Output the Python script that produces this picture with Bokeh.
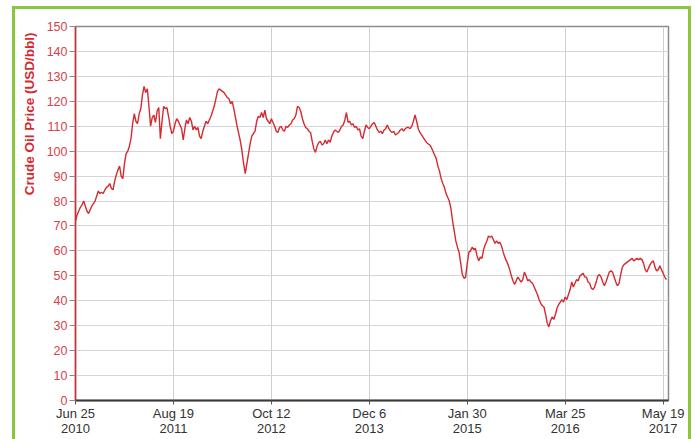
import numpy as np
import pandas as pd
from bokeh.plotting import figure
from bokeh.models import Range1d, FixedTicker, Title
from bokeh.embed import file_html
from bokeh.resources import INLINE

# ---------------- data ----------------
start_date = "2010-06-25"
end_date = "2017-06-11"
x_tick_dates = ["2010-06-25", "2011-08-19", "2012-10-12", "2013-12-06",
                "2015-01-30", "2016-03-25", "2017-05-19"]
x_tick_labels = ["Jun 25\n2010", "Aug 19\n2011", "Oct 12\n2012", "Dec 6\n2013",
                 "Jan 30\n2015", "Mar 25\n2016", "May 19\n2017"]
y_ticks = [0, 10, 20, 30, 40, 50, 60, 70, 80, 90, 100, 110, 120, 130, 140, 150]
y_title = "Crude Oil Price (USD/bbl)"

# weekly crude oil price (USD/bbl), one value per week starting Jun 25 2010
price_2010 = [72, 74.5, 76, 77.5, 78.5, 80, 78, 76, 75, 76.5, 78, 79, 80, 82,
              84, 83, 83.5, 83, 84.5, 85.5, 86, 87, 85, 84.5, 88, 90.5, 92.5, 94]
price_2011 = [90, 89, 95, 99, 100, 102, 105, 111, 115, 112, 111, 115, 117, 122.5,
              126, 123.5, 125, 118, 110, 113.5, 114.5, 111.5, 116, 117.5, 105, 112,
              118, 117, 117.5, 114, 110, 107, 108, 111, 113, 112, 110.5, 109,
              104.5, 109, 112.5, 111, 113.5, 112, 108.5, 110, 108.5, 109.5, 106,
              105, 108, 110]
price_2012 = [112, 111, 112.5, 114, 116, 118, 121, 124, 125, 124.5, 124, 123.5,
              122.5, 121.5, 121, 119, 120, 117, 113.5, 110, 107, 104, 100, 95, 91,
              95, 99, 103, 106, 107, 108, 112, 114, 113.5, 115.5, 113.5, 116.5,
              113, 112, 111, 113, 111.5, 110, 108, 107.5, 109.5, 110, 108.5, 108,
              110, 109.5, 110.5]
price_2013 = [111, 112.5, 113, 114.5, 118, 117.5, 116, 113, 111, 109.5, 109, 108,
              107.5, 104, 101, 99.5, 102, 103.5, 104, 102.5, 103, 104.5, 103,
              104.5, 103.5, 106, 107.5, 108.5, 108, 107.5, 108.5, 110, 110.5,
              112.5, 115.5, 111.5, 112, 110.5, 111, 109.5, 110, 108.5, 109, 106,
              105, 108, 110.5, 109.5, 109, 110, 111, 111.5]
price_2014 = [110, 108.5, 107.5, 108, 107, 108.5, 109, 110.5, 109, 108, 107.5,
              108, 106.5, 107, 107.5, 108.5, 109, 108, 109, 109.5, 109.5, 109,
              110, 112, 114.5, 112, 109, 107.5, 106.5, 105.5, 104.5, 103.5, 103,
              102.5, 101.5, 100, 98.5, 97, 94, 92, 89, 87, 85.5, 83, 81.5, 80, 77,
              72, 68, 64, 61.5, 59.5]
price_2015 = [55, 50.5, 49, 49.5, 55, 59.5, 60, 61.5, 60.5, 61, 58, 56, 57.5, 57,
              60.5, 62.5, 64, 66, 65.5, 66, 64.5, 63, 64, 63, 63.5, 62, 59.5, 57.5,
              56, 54.5, 52.5, 50, 48, 46.5, 48, 49.5, 48.5, 47.5, 48.5, 51.5, 50,
              48, 48.5, 47.5, 47, 45.5, 44, 42.5, 40.5, 39, 38, 37.5]
price_2016 = [34.5, 31, 29.5, 32, 33.5, 32.5, 34.5, 37, 38.5, 39.5, 40.5, 39.5,
              41.5, 40.5, 42.5, 44.5, 47.5, 45.5, 47, 48.5, 48, 50, 50.5, 51, 49.5,
              49.5, 47.5, 47, 45, 44.5, 45.5, 47.5, 50, 50.5, 49.5, 47.5, 46, 47.5,
              49.5, 51.5, 52, 51.5, 49.5, 47.5, 46, 47, 50.5, 53.5, 54.5, 55, 55.5,
              56]
price_2017 = [56.5, 57, 56, 56.5, 57, 56.5, 57, 56.5, 55, 52.5, 51.5, 53, 54.5,
              55.5, 56, 53.5, 52, 52.5, 54, 52.5, 51, 49.5, 48.5]

prices = price_2010 + price_2011 + price_2012 + price_2013 + price_2014 + price_2015 + price_2016 + price_2017
dates = pd.date_range(start_date, periods=len(prices), freq="7D")


def ms(d):
    return int(pd.Timestamp(d).value // 10**6)


# ---------------- styles ----------------
RED = "#d42a30"
GREEN = "#8cc63f"
FONT = "Liberation Sans"
W, H = 694, 439

green_frame = (
    f"linear-gradient({GREEN},{GREEN}) 12px 6px / 3px 600px no-repeat, "
    f"linear-gradient({GREEN},{GREEN}) 12px 6px / 679px 3px no-repeat, "
    f"linear-gradient({GREEN},{GREEN}) 688px 6px / 3px 600px no-repeat, "
    "#ffffff"
)

p = figure(width=W, height=H, x_axis_type="datetime",
           output_backend="svg", toolbar_location=None,
           x_range=Range1d(pd.Timestamp(start_date), pd.Timestamp(end_date)),
           y_range=Range1d(0, 150),
           min_border_left=75, min_border_right=W - 668, min_border_top=26,
           min_border_bottom=H - 401,
           styles={"background": green_frame})
p.background_fill_color = "white"
p.border_fill_color = None
p.outline_line_color = "#8c8c8c"
p.outline_line_width = 1.5

p.line(dates, prices, line_color=RED, line_width=1.4)

# x axis
p.xaxis.ticker = FixedTicker(ticks=[ms(d) for d in x_tick_dates])
p.xaxis.major_label_overrides = {ms(d): lab for d, lab in zip(x_tick_dates, x_tick_labels)}
p.xaxis.axis_line_color = "#3a3a3a"
p.xaxis.axis_line_width = 2
p.xaxis.major_tick_line_color = "#555555"
p.xaxis.major_tick_out = 4
p.xaxis.major_tick_in = 0
p.xaxis.minor_tick_line_color = None
p.xaxis.major_label_standoff = 1
p.xaxis.major_label_text_font = FONT
p.xaxis.major_label_text_font_size = "13px"
p.xaxis.major_label_text_color = "#333333"
p.xaxis.major_label_text_line_height = 1.05

# y axis
p.yaxis.ticker = FixedTicker(ticks=y_ticks)
p.yaxis.axis_line_color = RED
p.yaxis.axis_line_width = 1.5
p.yaxis.major_tick_line_color = "#888888"
p.yaxis.major_tick_out = 6
p.yaxis.major_tick_in = 0
p.yaxis.minor_tick_line_color = None
p.yaxis.major_label_standoff = 2
p.yaxis.major_label_text_font = FONT
p.yaxis.major_label_text_font_size = "12.5px"
p.yaxis.major_label_text_color = "#d8414a"

# grids
p.xgrid.grid_line_color = "#cfcfcf"
p.ygrid.grid_line_color = "#d6d6d6"

# y axis title, placed towards the top of the axis as in the reference
p.add_layout(Title(text=y_title, align="right", offset=6,
                   text_font=FONT, text_font_style="bold",
                   text_font_size="13.5px", text_color=RED, standoff=14), "left")

open("out.html", "w").write(file_html(p, INLINE))
